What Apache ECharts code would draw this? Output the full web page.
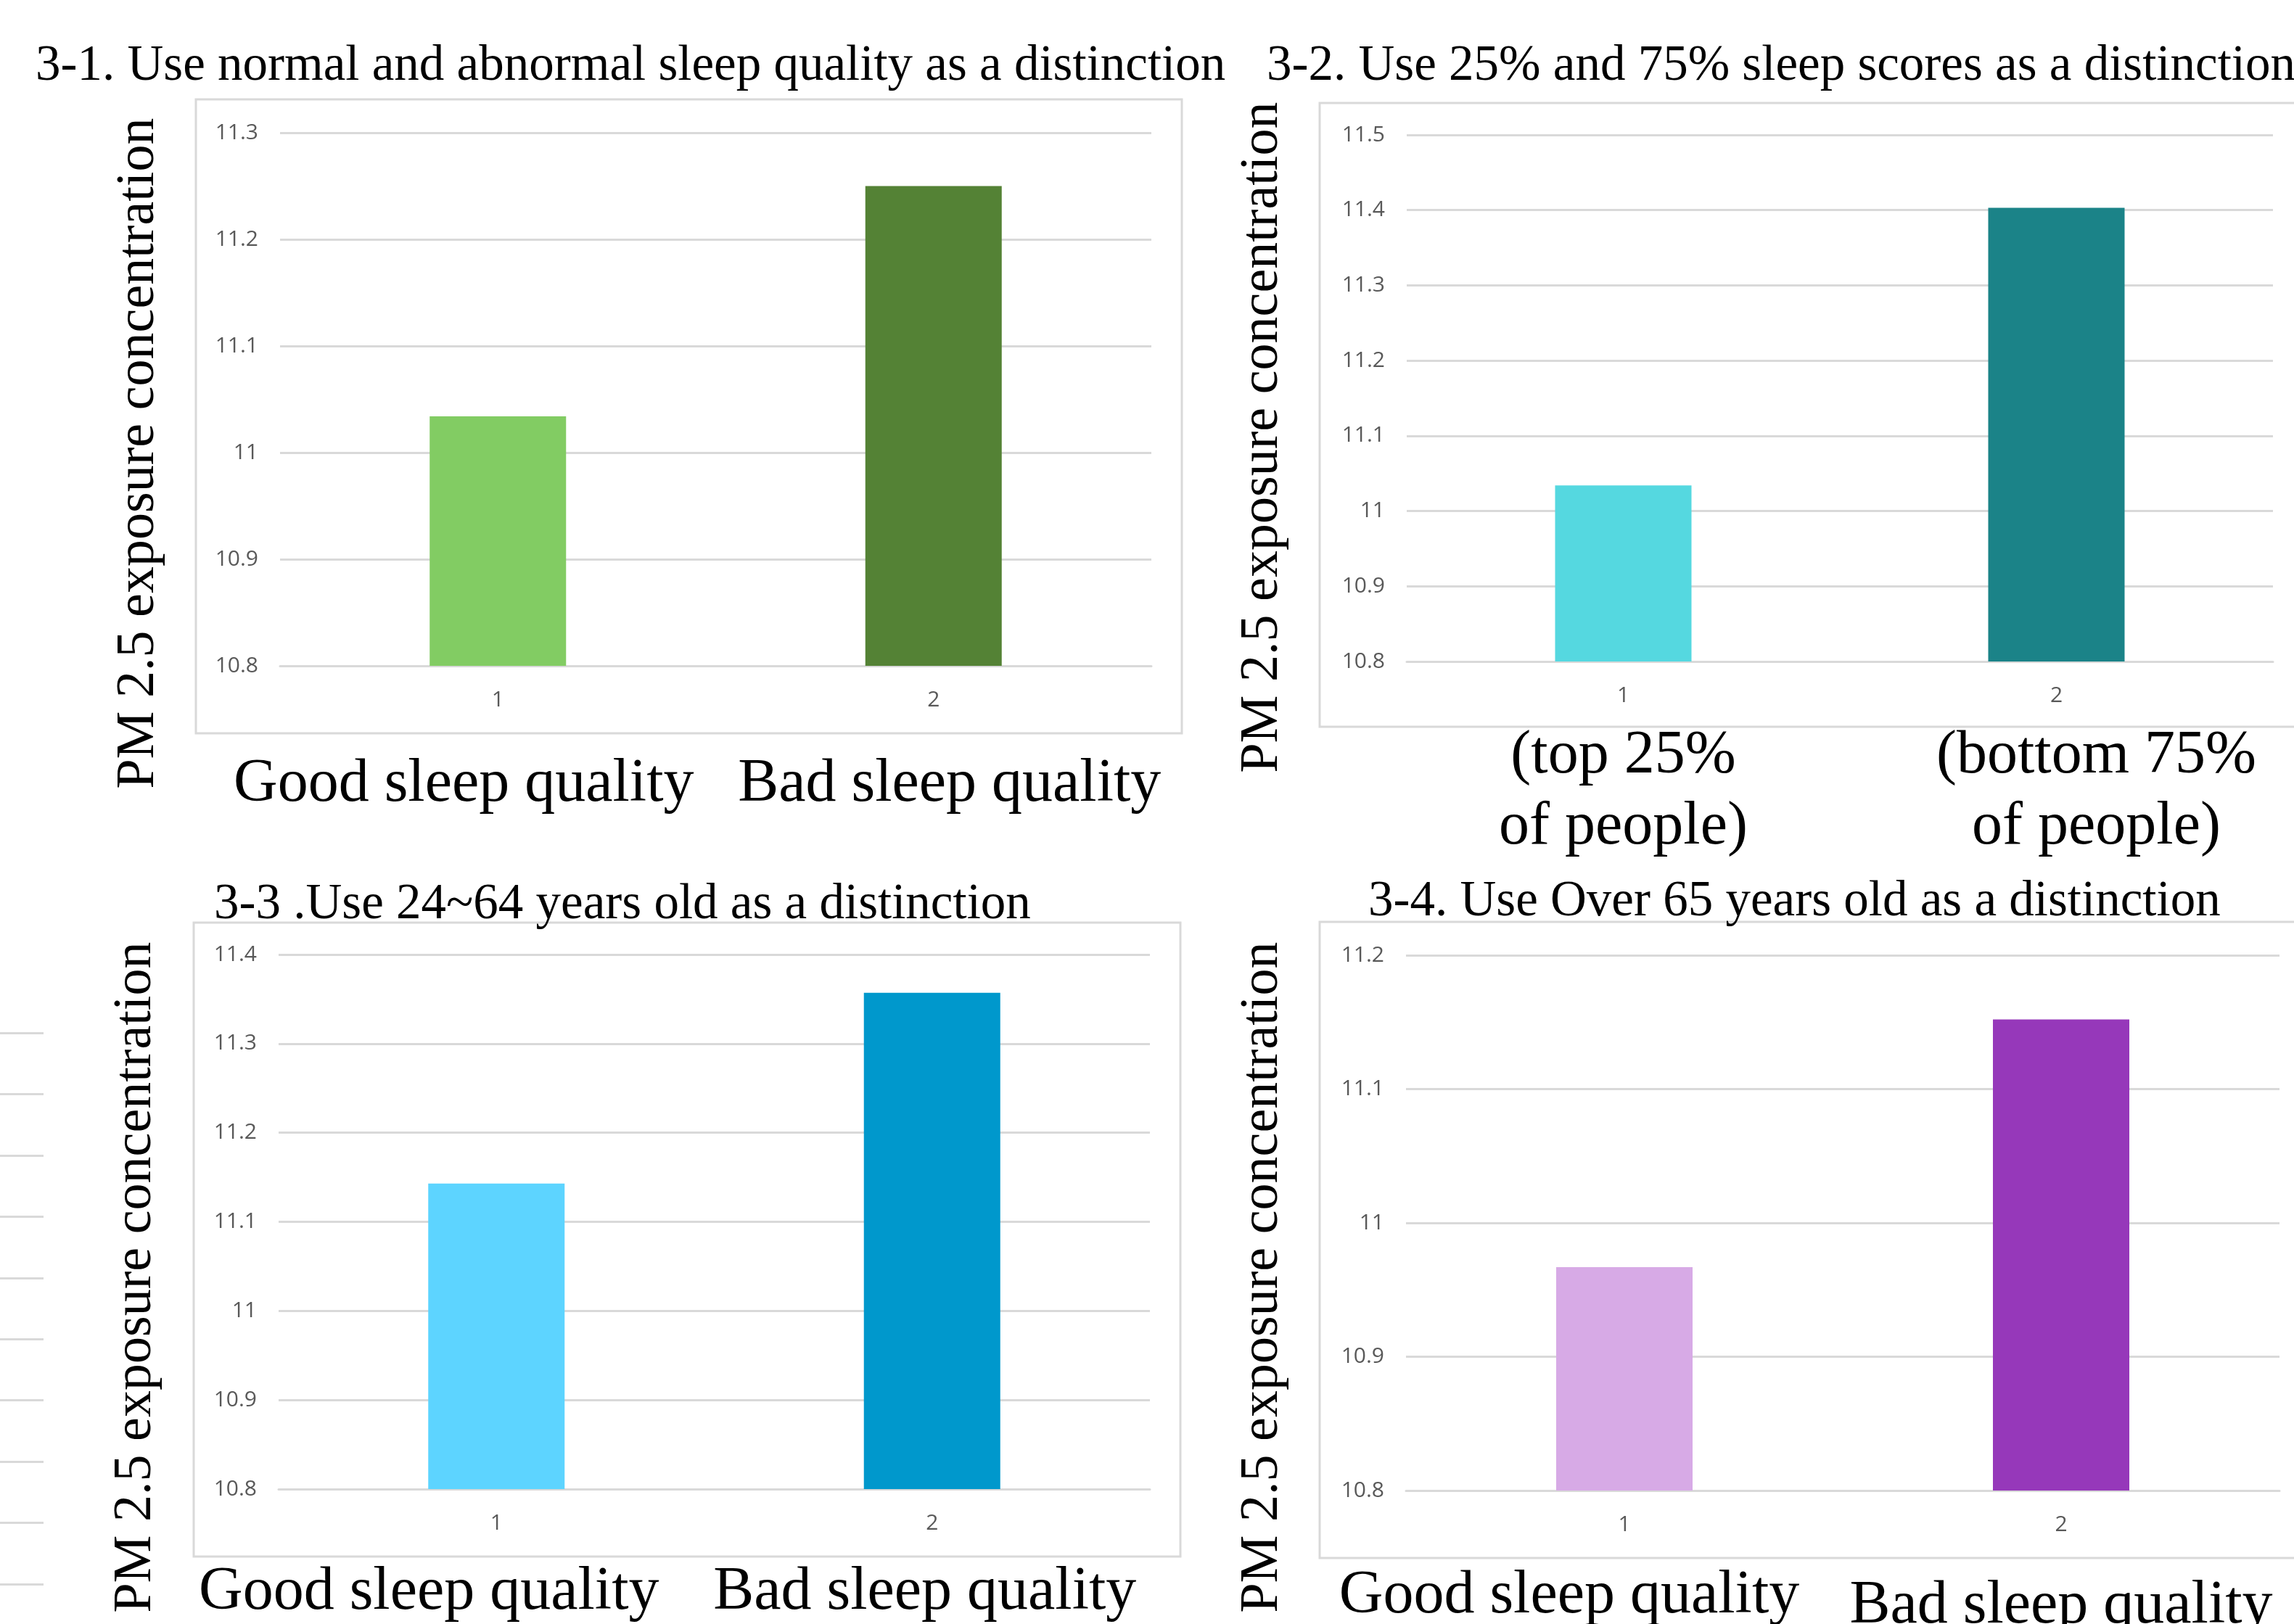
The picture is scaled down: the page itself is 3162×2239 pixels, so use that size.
<!DOCTYPE html>
<html>
<head>
<meta charset="utf-8">
<script src="https://cdn.jsdelivr.net/npm/echarts@6/dist/echarts.min.js"></script>
<style>
  html, body { margin: 0; padding: 0; background: #fff; }
  #chart { width: 3162px; height: 2239px; }
</style>
</head>
<body>
<div id="chart"></div>
<script>
// data
const panelTitles = [
  '3-1. Use normal and abnormal sleep quality as a distinction',
  '3-2. Use 25% and 75% sleep scores as a distinction',
  '3-3 .Use 24~64 years old as a distinction',
  '3-4. Use Over 65 years old as a distinction'
]
const tickCats = ['1', '2']
const sleepGroups = ['Good sleep quality', 'Bad sleep quality']
const scoreGroups = ['(top 25%\nof people)', '(bottom 75%\nof people)']
const values31 = [11.034, 11.25]
const values32 = [11.034, 11.403]
const values33 = [11.143, 11.357]
const values34 = [10.967, 11.152]
const yMins = [10.8, 10.8, 10.8, 10.8]
const yMaxs = [11.3, 11.5, 11.4, 11.2]
const yName = 'PM 2.5 exposure concentration'

const SERIF = '"Liberation Serif", "Times New Roman", serif'
const SANS = '"Open Sans", "Noto Sans", sans-serif'
const GRID_GRAY = '#d9d9d9'
const LABEL_GRAY = '#595959'

const barColors = [
  ['#82CC63', '#548235'],
  ['#55D8E0', '#1B8388'],
  ['#5DD4FF', '#0098CC'],
  ['#D7AAE6', '#9638BA']
]

// layout of each panel (pixels)
const panels = [
  { grid: { left: 386, top: 183, width: 1201, height: 735 }, box: [270, 137, 1359, 874],
    groups: sleepGroups, shifts: [[0, 94, 0, 0], [0, 0, 0, 44]], gap: 114, lh: 100,
    title: [49, 92], yname: [192, 625], values: values31 },
  { grid: { left: 1939, top: 186, width: 1194, height: 726 }, box: [1819, 142, 1400, 860],
    groups: scoreGroups, shifts: [[0, 0, 0, 0], [0, 0, 0, 110]], gap: 82, lh: 98,
    title: [1746, 92], yname: [1741, 603], values: values32 },
  { grid: { left: 384, top: 1316, width: 1201, height: 737 }, box: [267, 1272, 1360, 874],
    groups: sleepGroups, shifts: [[0, 186, 0, 0], [0, 20, 0, 0]], gap: 93, lh: 100,
    title: [295, 1248], yname: [188, 1761], values: values33 },
  { grid: { left: 1938, top: 1317, width: 1204, height: 738 }, box: [1819, 1271, 1400, 877],
    groups: sleepGroups, shifts: [[0, 152, 0, 0], [14, 0, 0, 0]], gap: 96, lh: 100,
    title: [1886, 1244], yname: [1741, 1761], values: values34 }
]

const chart = echarts.init(document.getElementById('chart'))

const grids = []
const xAxes = []
const yAxes = []
const series = []
const graphics = []

panels.forEach((p, i) => {
  grids.push(Object.assign({ outerBoundsMode: 'none', containLabel: false }, p.grid))
  xAxes.push({
    type: 'category', gridIndex: i, data: tickCats,
    axisLine: { lineStyle: { color: GRID_GRAY, width: 3 } },
    axisTick: { show: false },
    axisLabel: { color: LABEL_GRAY, fontFamily: SANS, fontSize: 30, margin: 32 }
  })
  xAxes.push({
    type: 'category', gridIndex: i, position: 'bottom',
    data: p.groups.map((g, k) => ({ value: g, textStyle: { padding: p.shifts[k] } })),
    axisLine: { show: false }, axisTick: { show: false }, splitLine: { show: false },
    axisLabel: {
      interval: 0, color: '#000', fontFamily: SERIF, fontSize: 84,
      lineHeight: p.lh, margin: p.gap
    }
  })
  yAxes.push({
    type: 'value', gridIndex: i, min: yMins[i], max: yMaxs[i], interval: 0.1,
    axisLine: { show: false }, axisTick: { show: false },
    splitLine: { lineStyle: { color: GRID_GRAY, width: 3 } },
    axisLabel: { color: LABEL_GRAY, fontFamily: SANS, fontSize: 30, margin: 30 }
  })
  series.push({
    type: 'bar', xAxisIndex: i * 2, yAxisIndex: i, barWidth: 188,
    data: p.values.map((v, k) => ({ value: v, itemStyle: { color: barColors[i][k] } })),
    silent: true
  })
  graphics.push({
    type: 'rect', z: 0, silent: true,
    shape: { x: p.box[0], y: p.box[1], width: p.box[2], height: p.box[3] },
    style: { fill: null, stroke: GRID_GRAY, lineWidth: 3 }
  })
  graphics.push({
    type: 'text', x: p.title[0], y: p.title[1], silent: true,
    style: {
      text: panelTitles[i], fill: '#000', fontFamily: SERIF, fontSize: 69,
      textAlign: 'left', textVerticalAlign: 'middle'
    }
  })
  graphics.push({
    type: 'text', x: p.yname[0], y: p.yname[1], rotation: Math.PI / 2, silent: true,
    style: {
      text: yName, fill: '#000', fontFamily: SERIF, fontSize: 74,
      textAlign: 'center', textVerticalAlign: 'middle'
    }
  })
})

// cropped gridlines of a neighbouring chart on the far left edge
grids.push({ left: 0, top: 1424, width: 60, height: 760, outerBoundsMode: 'none' })
xAxes.push({ type: 'value', gridIndex: 4, show: false })
yAxes.push({
  type: 'value', gridIndex: 4, min: 0, max: 9, interval: 1,
  axisLine: { show: false }, axisTick: { show: false }, axisLabel: { show: false },
  splitLine: { lineStyle: { color: GRID_GRAY, width: 3 } }
})

chart.setOption({
  backgroundColor: '#fff',
  animation: false,
  grid: grids,
  xAxis: xAxes,
  yAxis: yAxes,
  series,
  graphic: graphics
})
</script>
</body>
</html>
